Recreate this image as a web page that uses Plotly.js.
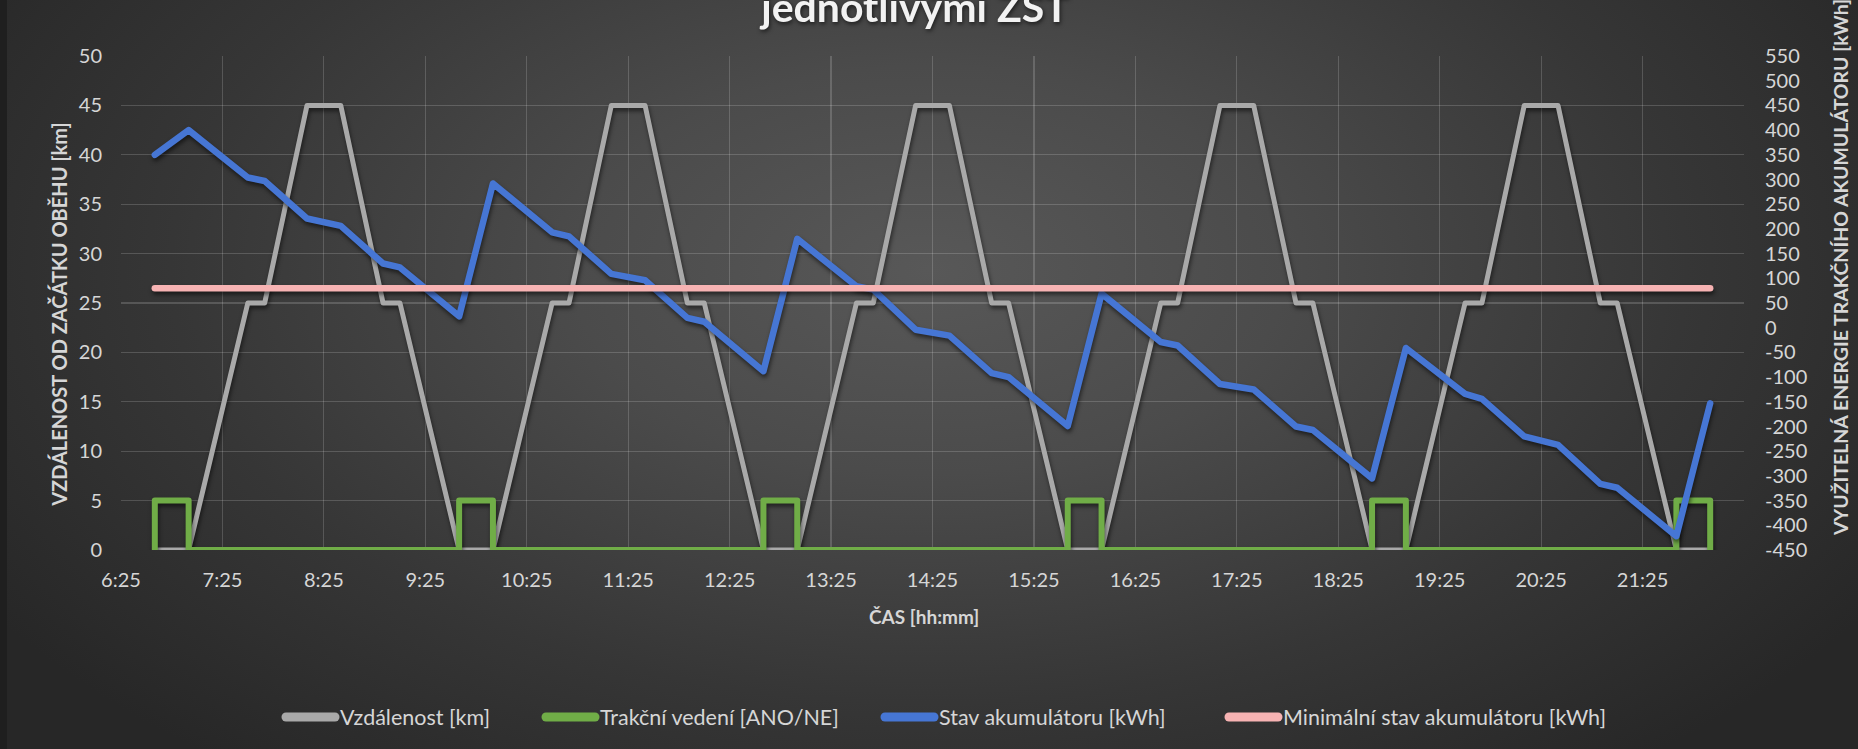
<!DOCTYPE html>
<html>
<head>
<meta charset="utf-8">
<script src="https://cdn.plot.ly/plotly-3.0.1.min.js"></script>
<style>
html,body{margin:0;padding:0;width:1858px;height:749px;overflow:hidden;}
body{background:radial-gradient(ellipse 60% 85% at 50% 36%, #585858 0%, #4b4b4b 32%, #363636 68%, #272727 100%);}
#edge{position:absolute;left:0;top:0;width:7px;height:749px;background:#1f1f1f;z-index:5;}
#chart{position:absolute;left:0;top:0;width:1858px;height:749px;}
.scatterlayer .js-line{stroke-linejoin:round !important;stroke-linecap:round !important;filter:drop-shadow(1px 3px 2px rgba(0,0,0,0.55));}
.legendlines path{stroke-width:9px !important;stroke-linecap:round !important;}
.gtitle{filter:drop-shadow(1px 2px 2px rgba(0,0,0,0.6));}
</style>
</head>
<body>
<div id="edge"></div>
<div id="chart"></div>
<script>
// ---- data ----
const times = ["6:45","7:05","7:40","7:50","8:15","8:35","9:00","9:10","9:45",
  "10:05","10:40","10:50","11:15","11:35","12:00","12:10","12:45",
  "13:05","13:40","13:50","14:15","14:35","15:00","15:10","15:45",
  "16:05","16:40","16:50","17:15","17:35","18:00","18:10","18:45",
  "19:05","19:40","19:50","20:15","20:35","21:00","21:10","21:45","22:05"];
const distanceKm = [0,0,25,25,45,45,25,25,0,
  0,25,25,45,45,25,25,0,
  0,25,25,45,45,25,25,0,
  0,25,25,45,45,25,25,0,
  0,25,25,45,45,25,25,0,0];
const batteryKWh = [350,400,304,297,221,206,130,122,23,
  292,193,185,109,96,20,12,-88,
  180,84,77,-4,-16,-92,-100,-199,
  69,-29,-36,-114,-125,-200,-207,-305,
  -41,-134,-144,-220,-237,-316,-324,-422,-153];
const wireTimes = ["6:45","6:45","7:05","7:05","9:45","9:45","10:05","10:05",
  "12:45","12:45","13:05","13:05","15:45","15:45","16:05","16:05",
  "18:45","18:45","19:05","19:05","21:45","21:45","22:05","22:05"];
const wireLevel = [0,5,5,0,0,5,5,0,0,5,5,0,0,5,5,0,0,5,5,0,0,5,5,0];
const minTimes = ["6:45","22:05"];
const minBatteryKWh = [80,80];
const xTickLabels = ["6:25","7:25","8:25","9:25","10:25","11:25","12:25","13:25",
  "14:25","15:25","16:25","17:25","18:25","19:25","20:25","21:25"];
const xAxisStart = "6:25", xAxisEnd = "22:25";
const y2TickVals = [550,500,450,400,350,300,250,200,150,100,50,0,-50,-100,-150,-200,-250,-300,-350,-400,-450];
const y2TickText = ["550","500","450","400","350","300","250","200","150","100","50","0","-50","-100","-150","-200","-250","-300","-350","-400","-450"];
const seriesNames = ["Vzdálenost [km]","Trakční vedení [ANO/NE]","Stav akumulátoru [kWh]","Minimální stav akumulátoru [kWh]"];

function toMin(s){const p=s.split(":").map(Number);return p[0]*60+p[1];}

const FONT = 'Lato, "Open Sans", "DejaVu Sans", sans-serif';
const TXT = '#d6d6d6';

const traces = [
  {x:times.map(toMin), y:distanceKm, name:seriesNames[0], type:'scatter', mode:'lines',
   line:{color:'#a9a9a9', width:5}, yaxis:'y', hoverinfo:'skip', legend:'legend'},
  {x:wireTimes.map(toMin), y:wireLevel, name:seriesNames[1], type:'scatter', mode:'lines',
   line:{color:'#70ad47', width:6}, yaxis:'y', hoverinfo:'skip', legend:'legend2'},
  {x:times.map(toMin), y:batteryKWh, name:seriesNames[2], type:'scatter', mode:'lines',
   line:{color:'#4676d4', width:6.5}, yaxis:'y2', hoverinfo:'skip', legend:'legend3'},
  {x:minTimes.map(toMin), y:minBatteryKWh, name:seriesNames[3], type:'scatter', mode:'lines',
   line:{color:'#f7b3b3', width:6.5}, yaxis:'y2', hoverinfo:'skip', legend:'legend4'}
];

const grid = 'rgba(255,255,255,0.17)';
function leg(px){
  return {orientation:'h', xref:'container', yref:'container', x:px/1858, xanchor:'left',
          y:1-717/749, yanchor:'middle', font:{family:FONT, size:21.5, color:TXT},
          itemwidth:49, bgcolor:'rgba(0,0,0,0)', borderwidth:0};
}
const layout = {
  width:1858, height:749,
  paper_bgcolor:'rgba(0,0,0,0)', plot_bgcolor:'rgba(0,0,0,0)',
  margin:{l:121, r:114, t:56, b:199},
  font:{family:FONT, color:TXT, size:20},
  title:{text:'jednotlivými ZST', font:{family:FONT, size:41, color:'#f2f2f2', weight:'bold'},
         x:0.4925, xanchor:'center', xref:'container', y:1-22/749, yref:'container', yanchor:'bottom'},
  showlegend:true,
  legend:leg(281), legend2:leg(541), legend3:leg(880), legend4:leg(1224),
  xaxis:{range:[toMin(xAxisStart), toMin(xAxisEnd)], tickvals:xTickLabels.map(toMin), ticktext:xTickLabels,
         showgrid:true, gridcolor:grid, gridwidth:1.2, zeroline:false, showline:false, ticks:'',
         ticklabelstandoff:16, tickfont:{family:FONT, size:20, color:TXT}, fixedrange:true},
  yaxis:{range:[0,50], tick0:0, dtick:5, showgrid:true, gridcolor:grid, gridwidth:1.2, zeroline:false,
         showline:false, ticks:'', ticklabelstandoff:18, tickfont:{family:FONT, size:20, color:TXT}, fixedrange:true},
  yaxis2:{range:[-450,550], overlaying:'y', side:'right', tickvals:y2TickVals, ticktext:y2TickText,
          showgrid:false, zeroline:false, showline:false, ticks:'', ticklabelstandoff:20,
          tickfont:{family:FONT, size:20, color:TXT}, fixedrange:true},
  annotations:[
    {text:'ČAS [hh:mm]', xref:'paper', yref:'paper', x:0.495, y:-0.1356, xanchor:'center', yanchor:'middle',
     showarrow:false, font:{family:FONT, size:19, color:TXT, weight:'bold'}},
    {text:'VZDÁLENOST OD ZAČÁTKU OBĚHU [km]', xref:'paper', yref:'paper', x:-0.0382, y:0.476, textangle:-90,
     xanchor:'center', yanchor:'middle', showarrow:false, font:{family:FONT, size:20, color:TXT, weight:'bold'}},
    {text:'VYUŽITELNÁ ENERGIE TRAKČNÍHO AKUMULÁTORU [kWh]', xref:'paper', yref:'paper', x:1.0598, y:0.571, textangle:-90,
     xanchor:'center', yanchor:'middle', showarrow:false, font:{family:FONT, size:19.5, color:TXT, weight:'bold'}}
  ]
};

Plotly.newPlot('chart', traces, layout, {displayModeBar:false, staticPlot:true});
</script>
</body>
</html>
